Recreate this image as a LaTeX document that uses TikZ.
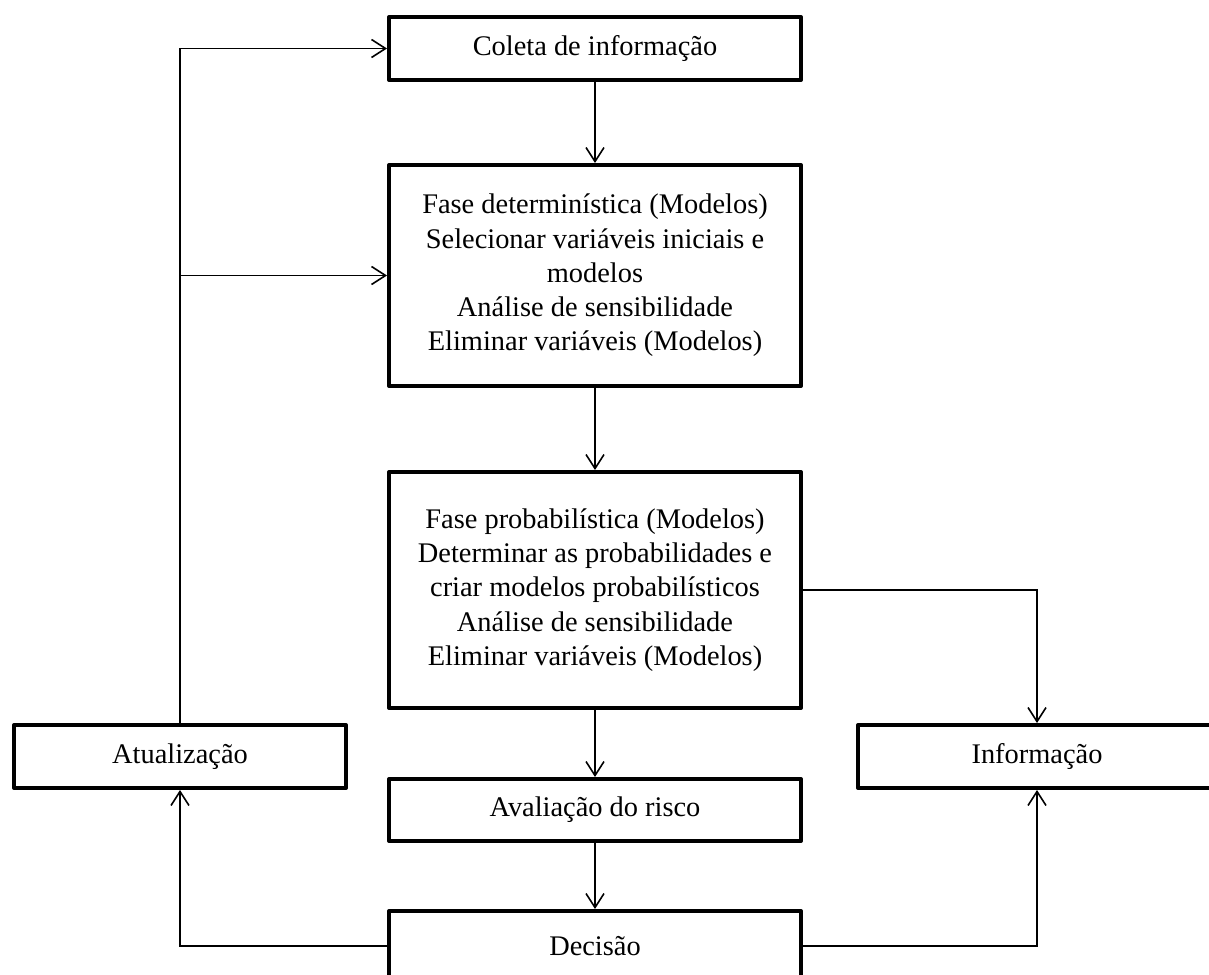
\documentclass[tikz,border=0pt]{standalone}
\usepackage{fontspec}
\setmainfont{Liberation Serif}
\usetikzlibrary{arrows.meta}

\begin{document}
\begin{tikzpicture}[x=0.5pt, y=-0.5pt,
        caixa/.style={draw, line width=2pt, line join=round, align=center, inner sep=0pt,
            font=\fontsize{14.2}{17.15}\selectfont},
        seta/.style={-{Straight Barb[length=7pt,width=9pt]}, line width=0.8pt},
        linha/.style={line width=0.8pt}]
        \useasboundingbox (0,0) rectangle (1209,974);

        \node[caixa, minimum width=206pt, minimum height=31.5pt] (coleta) at (595,48.5) {Coleta de informação};
        \node[caixa, minimum width=206pt, minimum height=110.5pt] (det) at (595,275.5)
            {Fase determinística (Modelos)\\Selecionar variáveis iniciais e\\modelos\\Análise de sensibilidade\\Eliminar variáveis (Modelos)};
        \node[caixa, minimum width=206pt, minimum height=118pt] (prob) at (595,590)
            {Fase probabilística (Modelos)\\Determinar as probabilidades e\\criar modelos probabilísticos\\Análise de sensibilidade\\Eliminar variáveis (Modelos)};
        \node[caixa, minimum width=206pt, minimum height=31pt] (aval) at (595,810) {Avaliação do risco};
        \node[caixa, minimum width=206pt, minimum height=35pt] (decisao) at (595,946) {Decisão};
        \node[caixa, minimum width=166pt, minimum height=31.5pt] (atual) at (180,756.5) {Atualização};
        \node[caixa, minimum width=179pt, minimum height=31.5pt] (info) at (1037,756.5) {Informação};

        \draw[seta] (coleta) -- (det);
        \draw[seta] (det) -- (prob);
        \draw[seta] (prob) -- (aval);
        \draw[seta] (aval) -- (decisao);

        \draw[seta] (atual.north) |- (coleta.west);
        \draw[seta] (atual.north |- det.west) -- (det.west);
        \draw[seta] (prob.east) -| (info.north);
        \draw[seta] (decisao.west) -| (atual.south);
        \draw[seta] (decisao.east) -| (info.south);
    \end{tikzpicture}
\end{document}
